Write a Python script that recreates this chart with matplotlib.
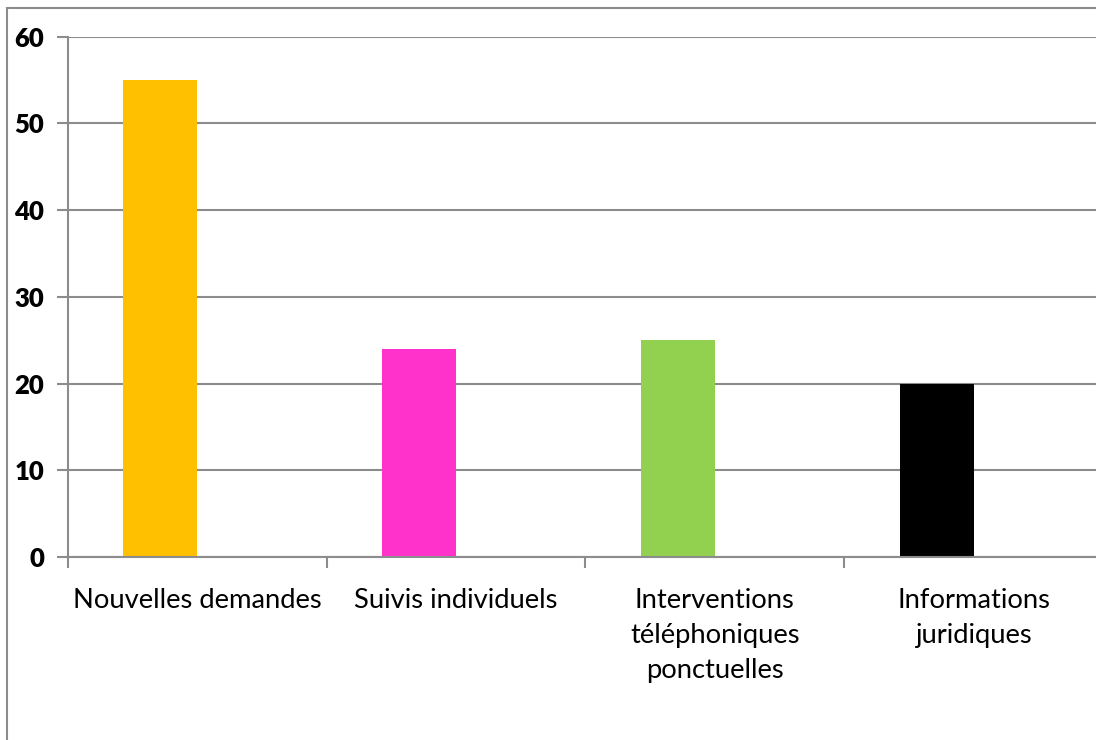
import matplotlib
matplotlib.use("Agg")
import matplotlib.pyplot as plt
from matplotlib.patches import Rectangle

categories = ["Nouvelles demandes", "Suivis individuels",
              "Interventions\ntéléphoniques\nponctuelles", "Informations\njuridiques"]
values = [55, 24, 25, 20]
colors = ["#FFC000", "#FF33CC", "#92D050", "#000000"]
yticks = [0, 10, 20, 30, 40, 50, 60]

W, H = 1096, 740
fig = plt.figure(figsize=(W / 100, H / 100), dpi=100)
fig.patch.set_facecolor("white")

# outer chart frame (extends past the right/bottom edge as in the reference)
fig.patches.append(Rectangle((7 / W, -0.1), 1.2, (H - 8) / H + 0.1,
                             transform=fig.transFigure, fill=False,
                             edgecolor="#8c8c8c", linewidth=1.5, zorder=0))

x0, x1 = 67.7, 1103.0
y0, y1 = 557.0, 36.7
ax = fig.add_axes([x0 / W, (H - y0) / H, (x1 - x0) / W, (y0 - y1) / H])

n = len(categories)
bw = 1 / 3.5
for i, (v, c) in enumerate(zip(values, colors)):
    ax.bar(i + 0.5, v, width=bw, align="edge", color=c, zorder=3)
# bars occupy [center - bw, center]
for p in ax.patches:
    p.set_x(p.get_x() - bw)

ax.set_xlim(0, n)
ax.set_ylim(0, 60)
ax.set_yticks(yticks)
ax.set_yticklabels([str(t) for t in yticks], fontfamily="Lato",
                   fontweight="heavy", fontsize=18.5)
ax.set_xticks(range(n + 1))
ax.set_xticklabels([])
ax.set_xticks([i + 0.5 for i in range(n)], minor=True)
ax.set_xticklabels(categories, minor=True, fontfamily="Lato", fontsize=19.7,
                   linespacing=1.52, va="top")
ax.tick_params(axis="x", which="minor", length=0, pad=22)
ax.tick_params(axis="x", which="major", length=8, width=1.5, color="#8c8c8c")
ax.tick_params(axis="y", length=8, width=1.5, color="#8c8c8c", pad=9)

ax.grid(axis="y", color="#8c8c8c", linewidth=1.5, zorder=0)
ax.set_axisbelow(True)
for s in ["top", "right"]:
    ax.spines[s].set_visible(False)
for s in ["left", "bottom"]:
    ax.spines[s].set_color("#8c8c8c")
    ax.spines[s].set_linewidth(1.5)
    ax.spines[s].set_zorder(4)

fig.savefig("out.png", dpi=100)
